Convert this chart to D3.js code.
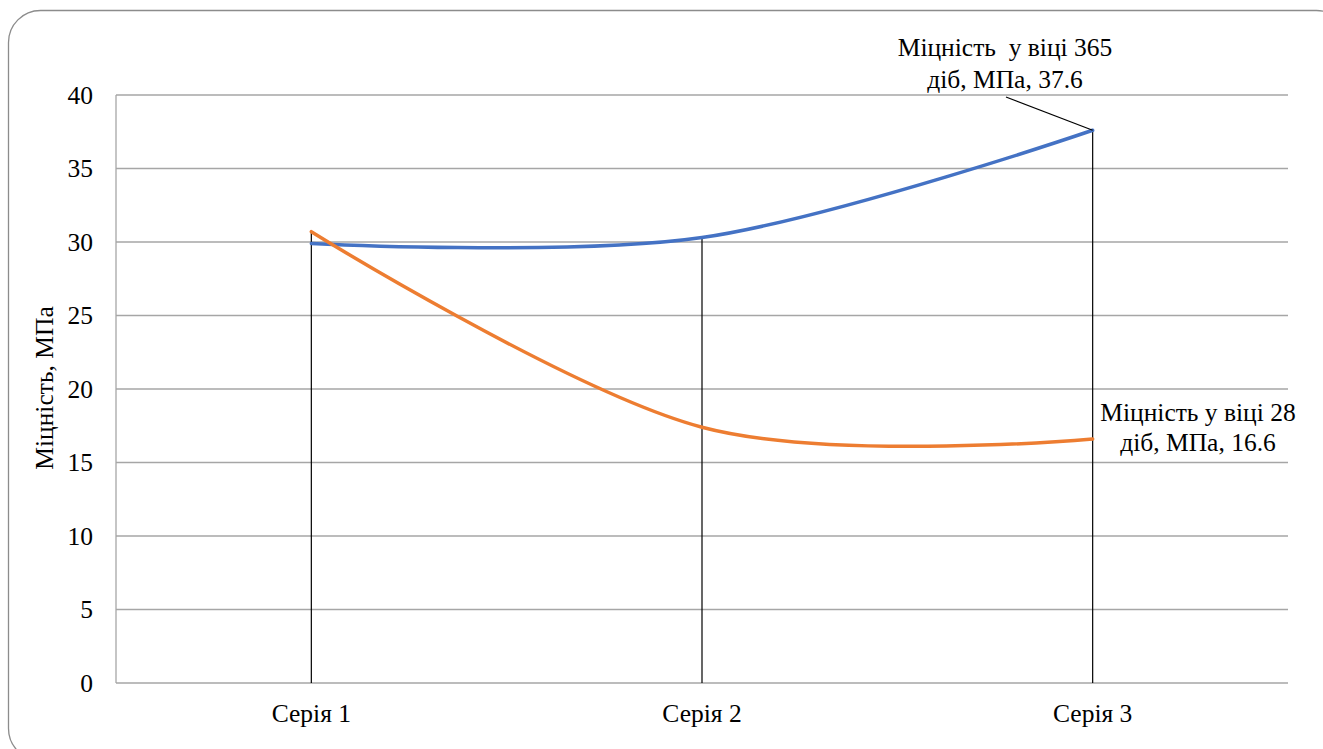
<!DOCTYPE html>
<html>
<head>
<meta charset="utf-8">
<script src="https://cdn.jsdelivr.net/npm/d3@7"></script>
<style>
  body { margin: 0; background: #fff; }
</style>
</head>
<body>
<svg id="chart" width="1323" height="749"></svg>
<script>
const categories = ["Серія 1", "Серія 2", "Серія 3"];
const series28 = [30.7, 17.4, 16.6];
const series365 = [29.9, 30.3, 37.6];
const yTicks = [0, 5, 10, 15, 20, 25, 30, 35, 40];
const yTitle = "Міцність, МПа";
const label365 = ["Міцність  у віці 365", "діб, МПа, 37.6"];
const label28 = ["Міцність у віці 28", "діб, МПа, 16.6"];

const FONT = "Liberation Serif";
const FS = 25.5;
const svg = d3.select("#chart");
const m = { left: 116, right: 1288, top: 95, bottom: 683 };

svg.append("rect")
  .attr("x", 8.5).attr("y", 10.5).attr("width", 1340).attr("height", 750)
  .attr("rx", 32).attr("ry", 32)
  .attr("fill", "none").attr("stroke", "#8c8c8c").attr("stroke-width", 1.3);

const x = d3.scaleBand().domain(categories).range([m.left, m.right]);
const y = d3.scaleLinear().domain([0, 40]).range([m.bottom, m.top]);
const cx = c => x(c) + x.bandwidth() / 2;

svg.append("g").selectAll("line").data(yTicks).join("line")
  .attr("x1", m.left).attr("x2", m.right)
  .attr("y1", d => y(d)).attr("y2", d => y(d))
  .attr("stroke", "#a6a6a6").attr("stroke-width", 1.3);
svg.append("line").attr("x1", m.left).attr("x2", m.left)
  .attr("y1", m.top).attr("y2", m.bottom)
  .attr("stroke", "#a6a6a6").attr("stroke-width", 1.3);

svg.append("g").selectAll("text").data(yTicks).join("text")
  .attr("x", 93).attr("y", d => y(d)).attr("dy", "0.34em")
  .attr("text-anchor", "end").attr("font-size", FS).attr("font-family", FONT).attr("fill", "#000")
  .text(d => d);

svg.append("g").selectAll("text").data(categories).join("text")
  .attr("x", d => cx(d)).attr("y", 722)
  .attr("text-anchor", "middle").attr("font-size", FS).attr("font-family", FONT).attr("fill", "#000")
  .text(d => d);

svg.append("text")
  .attr("transform", `translate(53, ${(m.top + m.bottom) / 2 - 1}) rotate(-90)`)
  .attr("text-anchor", "middle").attr("font-size", FS).attr("font-family", FONT).attr("fill", "#000")
  .text(yTitle);

svg.append("g").selectAll("line").data(categories).join("line")
  .attr("x1", d => cx(d)).attr("x2", d => cx(d))
  .attr("y1", (d, i) => y(Math.max(series28[i], series365[i])))
  .attr("y2", m.bottom)
  .attr("stroke", "#000").attr("stroke-width", 1.2);

const line = d3.line().x((d, i) => cx(categories[i])).y(d => y(d))
  .curve(d3.curveCardinal.tension(0));

svg.append("path").datum(series365).attr("d", line)
  .attr("fill", "none").attr("stroke", "#4472C4").attr("stroke-width", 3.5)
  .attr("stroke-linecap", "round");
svg.append("path").datum(series28).attr("d", line)
  .attr("fill", "none").attr("stroke", "#ED7D31").attr("stroke-width", 3.5)
  .attr("stroke-linecap", "round");

const p3 = [cx(categories[2]), y(series365[2])];
svg.append("line").attr("x1", 1006).attr("y1", 97).attr("x2", p3[0]).attr("y2", p3[1])
  .attr("stroke", "#000").attr("stroke-width", 1.2);

function label(lines, xc, y0, gap) {
  const t = svg.append("text").attr("text-anchor", "middle").attr("font-size", FS)
    .attr("font-family", FONT).attr("fill", "#000").style("white-space", "pre");
  lines.forEach((l, i) => t.append("tspan").attr("x", xc).attr("y", y0 + i * gap).text(l));
}
label(label365, 1005, 56, 32);
label(label28, 1198, 421, 30);
</script>
</body>
</html>
